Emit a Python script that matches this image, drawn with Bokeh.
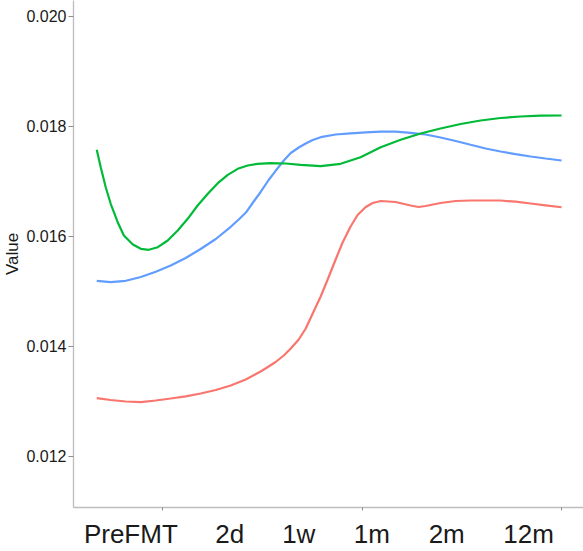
from bokeh.plotting import figure
from bokeh.models import Range1d, FixedTicker, NumeralTickFormatter, LinearAxis
from bokeh.embed import file_html
from bokeh.resources import INLINE

# positions on the time axis (axis units) and values
x_red = [0.669, 0.739, 0.815, 0.890, 0.965, 1.040, 1.115, 1.190, 1.266, 1.341,
         1.416, 1.491, 1.531, 1.566, 1.607, 1.642, 1.682, 1.717, 1.752, 1.792,
         1.827, 1.867, 1.902, 1.942, 1.977, 2.018, 2.053, 2.093, 2.168, 2.243,
         2.283, 2.318, 2.393, 2.469, 2.544, 2.619, 2.694, 2.769, 2.845, 2.920,
         3.000]
red_vals = [0.013055, 0.013022, 0.012995, 0.012982, 0.013013, 0.013049, 0.013089,
            0.013140, 0.013204, 0.013285, 0.013395, 0.013540, 0.013631, 0.013713,
            0.013831, 0.013958, 0.014122, 0.014322, 0.014595, 0.014904, 0.015213,
            0.015576, 0.015885, 0.016176, 0.016385, 0.016531, 0.016604, 0.016640,
            0.016622, 0.016558, 0.016531, 0.016549, 0.016604, 0.016640, 0.016649,
            0.016649, 0.016649, 0.016627, 0.016595, 0.016562, 0.016527]

x_green = [0.669, 0.689, 0.714, 0.739, 0.774, 0.805, 0.850, 0.890, 0.930, 0.975,
           1.025, 1.075, 1.125, 1.175, 1.226, 1.276, 1.326, 1.376, 1.426, 1.476,
           1.541, 1.617, 1.692, 1.792, 1.892, 1.992, 2.093, 2.193, 2.293, 2.393,
           2.494, 2.594, 2.694, 2.794, 2.895, 3.000]
green_vals = [0.017571, 0.017255, 0.016891, 0.016589, 0.016255, 0.016013, 0.015849,
              0.015771, 0.015753, 0.015800, 0.015922, 0.016104, 0.016316, 0.016558,
              0.016771, 0.016964, 0.017116, 0.017225, 0.017285, 0.017316, 0.017327,
              0.017322, 0.017298, 0.017273, 0.017316, 0.017436, 0.017618, 0.017753,
              0.017867, 0.017958, 0.018040, 0.018104, 0.018149, 0.018176, 0.018191,
              0.018195]

x_blue = [0.669, 0.739, 0.815, 0.890, 0.965, 1.040, 1.115, 1.190, 1.266, 1.341,
          1.381, 1.416, 1.456, 1.491, 1.531, 1.566, 1.607, 1.642, 1.682, 1.717,
          1.752, 1.792, 1.867, 1.942, 2.018, 2.093, 2.168, 2.243, 2.318, 2.393,
          2.469, 2.544, 2.619, 2.694, 2.769, 2.845, 2.920, 3.000]
blue_vals = [0.015189, 0.015164, 0.015189, 0.015258, 0.015355, 0.015467, 0.015604,
             0.015767, 0.015949, 0.016171, 0.016304, 0.016425, 0.016631, 0.016804,
             0.017022, 0.017189, 0.017376, 0.017513, 0.017613, 0.017685, 0.017749,
             0.017800, 0.017849, 0.017871, 0.017889, 0.017900, 0.017900, 0.017880,
             0.017849, 0.017795, 0.017731, 0.017662, 0.017595, 0.017540, 0.017493,
             0.017449, 0.017413, 0.017376]

categories = ["PreFMT", "2d", "1w", "1m", "2m", "12m"]
category_pos = [0.84, 1.336, 1.682, 2.048, 2.424, 2.835]
x_ticks = [1, 2, 3]
y_ticks = [0.012, 0.014, 0.016, 0.018, 0.020]

FONT = "Liberation Sans"

p = figure(width=583, height=551, output_backend="svg", toolbar_location=None,
           x_range=Range1d(0.5524, 3.110), y_range=Range1d(0.0110673, 0.0202855),
           x_axis_location=None, y_axis_location=None,
           min_border_left=0, min_border_right=0, min_border_top=0, min_border_bottom=0)
p.outline_line_color = None
p.xgrid.visible = False
p.ygrid.visible = False
p.background_fill_color = "white"
p.border_fill_color = "white"

# left axis
yax = LinearAxis(ticker=FixedTicker(ticks=y_ticks, minor_ticks=[]),
                 formatter=NumeralTickFormatter(format="0.000"),
                 axis_label="Value")
yax.axis_line_color = "#bdbdbd"
yax.axis_line_width = 1.3
yax.major_tick_line_color = "#8c8c8c"
yax.major_tick_out = 5
yax.major_tick_in = 0
yax.minor_tick_line_color = None
yax.major_label_standoff = 2
yax.major_label_text_font = FONT
yax.major_label_text_font_size = "16px"
yax.major_label_text_color = "#1a1a1a"
yax.axis_label_text_font = FONT
yax.axis_label_text_font_size = "17px"
yax.axis_label_text_font_style = "normal"
yax.axis_label_text_color = "#1a1a1a"
yax.axis_label_standoff = 1
p.add_layout(yax, "left")

# bottom axis: category labels as major labels, small marks as minor ticks
xax = LinearAxis(ticker=FixedTicker(ticks=category_pos, minor_ticks=x_ticks))
xax.major_label_overrides = {pos: lab for pos, lab in zip(category_pos, categories)}
xax.axis_line_color = "#bdbdbd"
xax.axis_line_width = 1.3
xax.major_tick_line_color = None
xax.major_tick_out = 0
xax.major_tick_in = 0
xax.minor_tick_line_color = "#8c8c8c"
xax.minor_tick_out = 3
xax.minor_tick_in = 0
xax.major_label_standoff = 8
xax.major_label_text_font = FONT
xax.major_label_text_font_size = "26px"
xax.major_label_text_color = "#1a1a1a"
p.add_layout(xax, "below")

p.line(x_red, red_vals, line_color="#F8766D", line_width=2.2)
p.line(x_blue, blue_vals, line_color="#619CFF", line_width=2.2)
p.line(x_green, green_vals, line_color="#00BA38", line_width=2.2)

open("out.html", "w").write(file_html(p, INLINE))
